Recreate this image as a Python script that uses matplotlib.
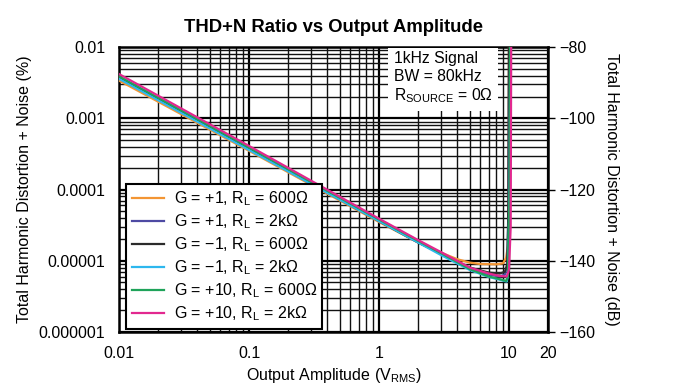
import numpy as np
import matplotlib
matplotlib.use("Agg")
import matplotlib.pyplot as plt
from matplotlib.ticker import LogLocator, NullFormatter

plt.rcParams["font.family"] = ["Liberation Sans", "DejaVu Sans"]

# data (output amplitude in Vrms, THD+N in %)
x_g1_600 = [0.01, 0.1, 1, 2, 3, 4, 5, 6, 8, 9, 9.5, 9.8, 9.95, 10.0]
y_g1_600 = [3.4e-3, 3.5e-4, 3.5e-5, 1.8e-5, 1.3e-5, 1.05e-5, 9.4e-6, 9.0e-6, 8.9e-6, 9.2e-6, 1.1e-5, 1.6e-5, 1e-4, 2e-2]

x_g1_2k = [0.01, 0.1, 1, 2, 3, 5, 7, 8.5, 9.3, 9.7, 9.9, 10.05]
y_g1_2k = [3.8e-3, 3.8e-4, 3.7e-5, 1.85e-5, 1.25e-5, 7.8e-6, 6.4e-6, 6.0e-6, 6.4e-6, 8.5e-6, 5e-5, 2e-2]

x_gm1_600 = [0.01, 0.1, 1, 2, 3, 5, 7, 8.5, 9.3, 9.7, 9.9, 10.0]
y_gm1_600 = [3.7e-3, 3.7e-4, 3.6e-5, 1.8e-5, 1.25e-5, 8.0e-6, 6.8e-6, 6.6e-6, 7.0e-6, 9e-6, 6e-5, 2e-2]

x_gm1_2k = [0.01, 0.1, 1, 2, 3, 5, 7, 8.5, 9.6, 9.8, 10.1, 10.2]
y_gm1_2k = [3.6e-3, 3.6e-4, 3.6e-5, 1.8e-5, 1.2e-5, 7.4e-6, 5.9e-6, 5.4e-6, 5.1e-6, 6e-6, 1e-4, 2e-2]

x_g10_600 = [0.01, 0.1, 1, 2, 3, 5, 7, 8.5, 9.5, 9.8, 10.1, 10.2]
y_g10_600 = [3.9e-3, 3.9e-4, 3.8e-5, 1.9e-5, 1.28e-5, 7.6e-6, 6.0e-6, 5.5e-6, 5.2e-6, 6e-6, 1e-4, 2e-2]

x_g10_2k = [0.01, 0.1, 1, 2, 3, 5, 7, 8.5, 9.6, 10.0, 10.3, 10.4]
y_g10_2k = [4.2e-3, 4.1e-4, 3.9e-5, 1.95e-5, 1.32e-5, 8.0e-6, 6.6e-6, 6.1e-6, 6.0e-6, 7.5e-6, 3e-5, 2e-2]

series = [
    (x_g1_600, y_g1_600, "#F39533", "G = +1, R$_\\mathregular{L}$ = 600Ω"),
    (x_g1_2k, y_g1_2k, "#4E4AA3", "G = +1, R$_\\mathregular{L}$ = 2kΩ"),
    (x_gm1_600, y_gm1_600, "#2B2B2B", "G = −1, R$_\\mathregular{L}$ = 600Ω"),
    (x_gm1_2k, y_gm1_2k, "#2DB7EE", "G = −1, R$_\\mathregular{L}$ = 2kΩ"),
    (x_g10_600, y_g10_600, "#1FA35A", "G = +10, R$_\\mathregular{L}$ = 600Ω"),
    (x_g10_2k, y_g10_2k, "#E2288F", "G = +10, R$_\\mathregular{L}$ = 2kΩ"),
]

x_ticks = [0.01, 0.1, 1, 10, 20]
x_labels = ["0.01", "0.1", "1", "10", "20"]
y_ticks = [0.01, 0.001, 0.0001, 0.00001, 0.000001]
y_labels = ["0.01", "0.001", "0.0001", "0.00001", "0.000001"]
db_ticks = [-80, -100, -120, -140, -160]

fs = 11.5

fig = plt.figure(figsize=(6.78, 3.9), dpi=100)
ax = fig.add_axes([0.1755, 0.149, 0.633, 0.73])

for xs, ys, c, lab in series:
    ax.plot(xs, ys, color=c, lw=1.6, label=lab, zorder=3)

ax.set_xscale("log")
ax.set_yscale("log")
ax.set_xlim(0.01, 20)
ax.set_ylim(1e-6, 1e-2)

ax.xaxis.set_minor_locator(LogLocator(base=10, subs=np.arange(2, 10)))
ax.yaxis.set_minor_locator(LogLocator(base=10, subs=np.arange(2, 10)))
ax.xaxis.set_minor_formatter(NullFormatter())
ax.yaxis.set_minor_formatter(NullFormatter())
ax.set_xticks(x_ticks, x_labels)
ax.set_yticks(y_ticks, y_labels)
ax.tick_params(which="both", length=0, labelsize=fs)
ax.tick_params(axis="y", pad=10)
ax.tick_params(axis="x", pad=10)

ax.grid(True, which="major", color="black", lw=1.6)
ax.grid(True, which="minor", color="#111111", lw=1.0)
for s in ax.spines.values():
    s.set_linewidth(1.8)

ax.set_xlabel("Output Amplitude (V$_\\mathregular{RMS}$)", fontsize=fs, labelpad=4)
ax.set_ylabel("Total Harmonic Distortion + Noise (%)", fontsize=fs, labelpad=5)
ax.set_title("THD+N Ratio vs Output Amplitude", fontsize=13.3, fontweight="bold", pad=11)

ax2 = ax.twinx()
ax2.set_ylim(-160, -80)
ax2.set_yticks(db_ticks)
ax2.tick_params(length=5, width=1, labelsize=fs, pad=3)
ax2.set_ylabel("Total Harmonic Distortion + Noise (dB)", fontsize=fs, rotation=270, labelpad=17)
for s in ax2.spines.values():
    s.set_visible(False)

ax.text(0.64, 0.985, "1kHz Signal\nBW = 80kHz\nR$_\\mathregular{SOURCE}$ = 0Ω",
        transform=ax.transAxes, va="top", ha="left", fontsize=11.3, linespacing=1.2,
        bbox=dict(facecolor="white", edgecolor="none", pad=4), zorder=4)

leg = ax.legend(loc="lower left", bbox_to_anchor=(0.01, 0.0), fontsize=fs,
                handlelength=2.0, handletextpad=0.6, fancybox=False, framealpha=1,
                borderaxespad=0.2, labelspacing=0.27, borderpad=0.35)
leg.get_frame().set_edgecolor("black")
leg.get_frame().set_linewidth(1.5)
leg.set_zorder(5)

fig.savefig("out.png", dpi=100)
